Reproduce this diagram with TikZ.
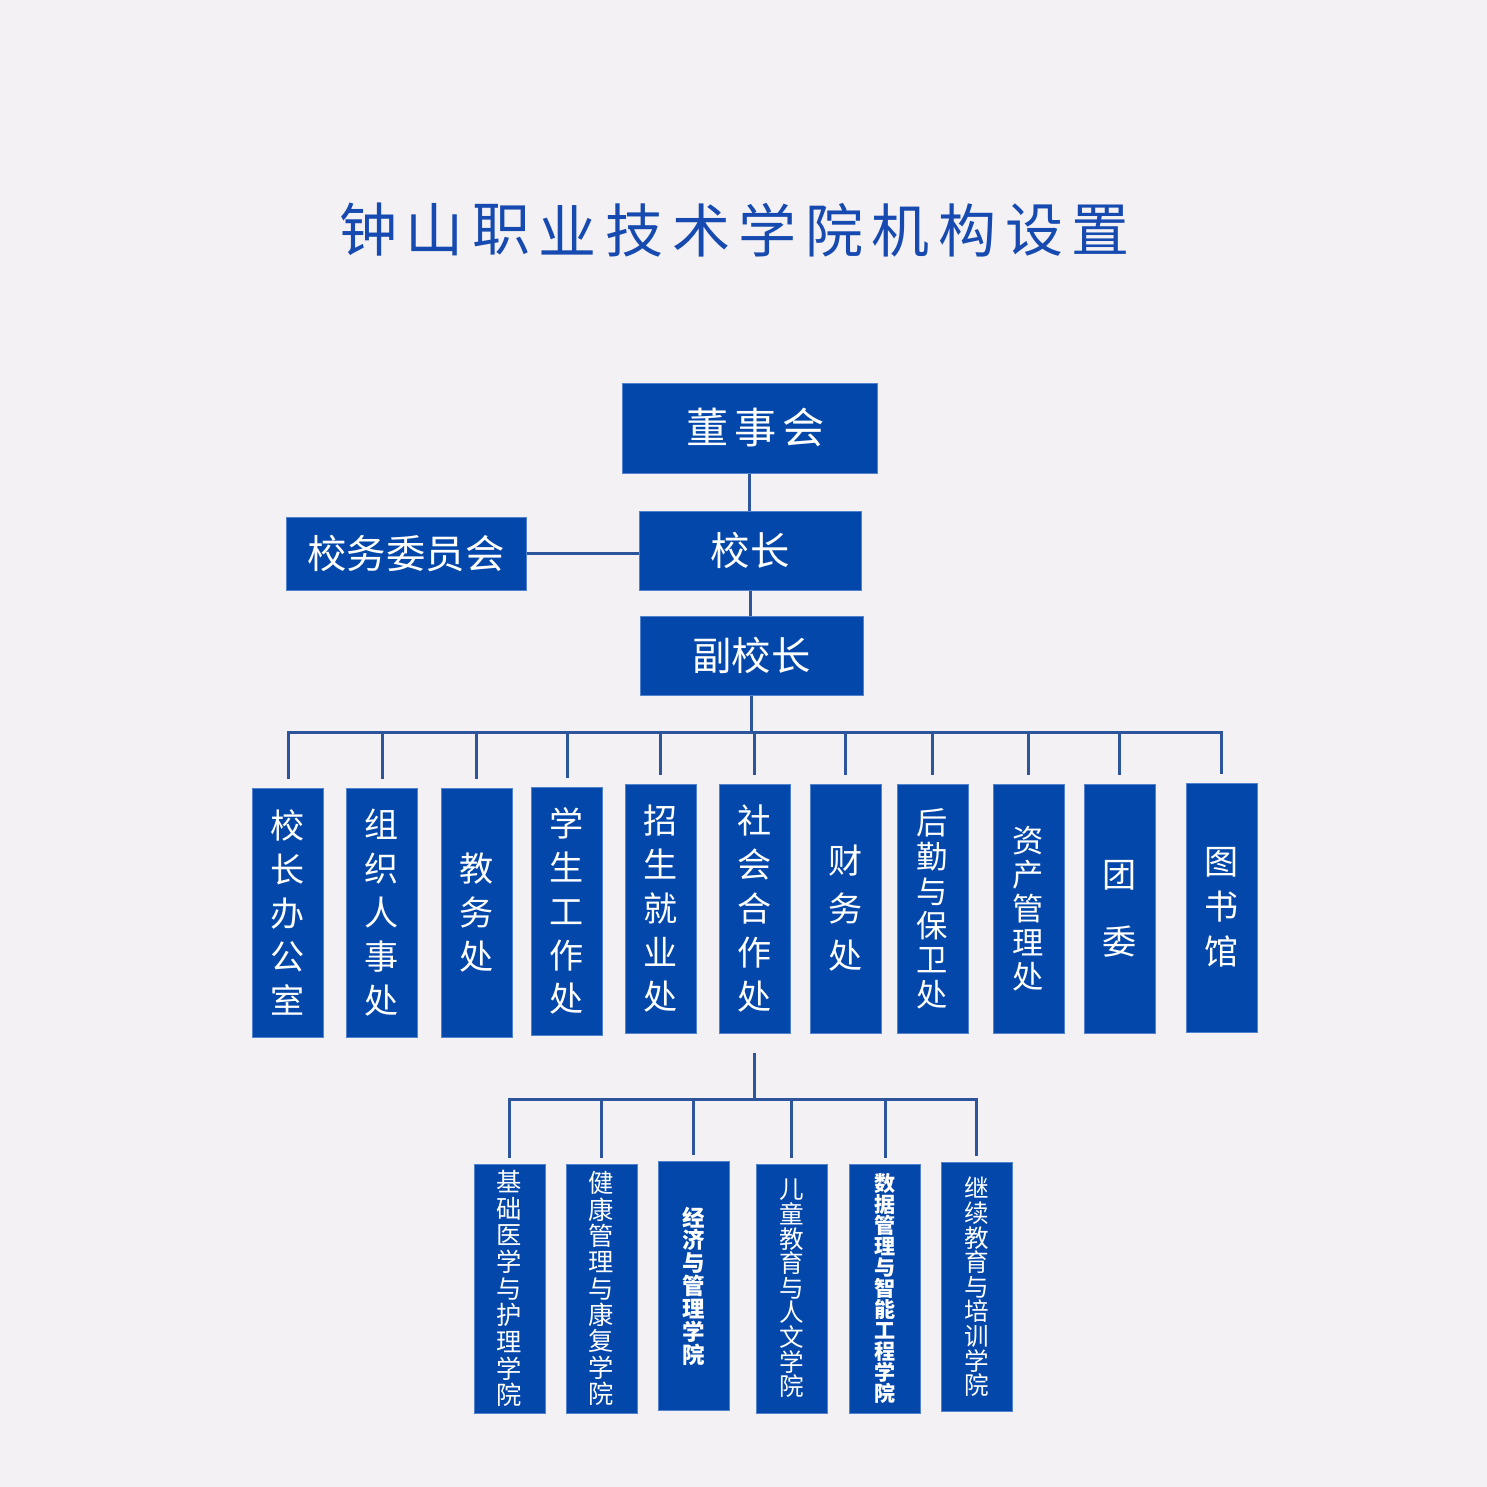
\documentclass[tikz,border=0pt]{standalone}
\usepackage{fontspec}
\setmainfont{Noto Sans CJK SC}
\definecolor{bg}{RGB}{243,241,243}
\definecolor{boxblue}{RGB}{3,71,171}
\definecolor{boxedge}{RGB}{80,130,205}
\definecolor{titleblue}{RGB}{22,74,176}
\definecolor{linkblue}{RGB}{45,85,155}

\tikzset{
  unit/.style={fill=boxblue, draw=boxedge, line width=0.1mm, text=white, inner sep=0pt},
  head/.style={unit, font=\fontsize{11.2pt}{13pt}\selectfont},
  dept/.style={unit, minimum width=7.1mm, minimum height=24.9mm, align=center,
    font=\fontsize{9.7pt}{12.5pt}\selectfont},
  college/.style={unit, minimum width=7.1mm, minimum height=24.9mm, align=center,
    font=\fontsize{7.2pt}{7.6pt}\selectfont},
  heading/.style={text=titleblue, inner sep=0pt, font=\fontsize{16.5pt}{18pt}\selectfont},
  link/.style={draw=linkblue, line width=0.3mm},
}

\begin{document}
\begin{tikzpicture}[x=0.1mm, y=-0.1mm]
  \fill[bg] (0,0) rectangle (1487,1487);
  \useasboundingbox (0,0) rectangle (1487,1487);

  % title
  \foreach \c [count=\i from 0] in {钟,山,职,业,技,术,学,院,机,构,设,置}
    \node[heading] (title\i) at ({368+\i*66.6},230) {\c};

  % top
  \node[head, minimum width=25.5mm, minimum height=9mm, font=\fontsize{12pt}{13pt}\selectfont]
    (board) at (749.5,428) {\kern1.2mm 董\kern0.55mm 事\kern0.55mm 会};
  \node[head, minimum width=22.2mm, minimum height=7.9mm] (principal) at (750,550.5) {校长};
  \node[head, minimum width=24mm, minimum height=7.3mm] (council) at (406,553.5) {校务委员会};
  \node[head, minimum width=22.3mm, minimum height=7.9mm] (vp) at (751.5,655.5) {副校长};

  \draw[link] (board.south) -- (board.south |- principal.north);
  \draw[link] (council.east) -- (council.east -| principal.west);
  \draw[link] (principal.south) -- (principal.south |- vp.north);

  % departments
  \node[dept] (office) at (288,912.5) {校\\长\\办\\公\\室};
  \node[dept] (personnel) at (382,912.5) {组\\织\\人\\事\\处};
  \node[dept] (academic) at (476.5,912.5) {教\\务\\处};
  \node[dept, minimum height=24.8mm] (student) at (567,911) {学\\生\\工\\作\\处};
  \node[dept] (admission) at (660.5,908.5) {招\\生\\就\\业\\处};
  \node[dept] (coop) at (754.5,908.5) {社\\会\\合\\作\\处};
  \node[dept, font=\fontsize{9.7pt}{13.5pt}\selectfont] (finance) at (845.5,908.5) {财\\务\\处};
  \node[dept, font=\fontsize{8.9pt}{9.8pt}\selectfont] (logistics) at (932.5,908.5) {后\\勤\\与\\保\\卫\\处};
  \node[dept, font=\fontsize{8.9pt}{9.7pt}\selectfont] (assets) at (1028.5,908.5) {资\\产\\管\\理\\处};
  \node[dept, font=\fontsize{9.7pt}{19pt}\selectfont] (youth) at (1119.5,908.5) {团\\委};
  \node[dept, font=\fontsize{9.7pt}{12.8pt}\selectfont] (library) at (1221.5,907.5) {图\\书\\馆};

  \coordinate (bus) at ([yshift=-3.7mm]vp.south);
  \draw[link] (vp.south) -- (bus);
  \foreach \d in {office,personnel,academic,student,admission,coop,finance,logistics,assets,youth,library}
    \draw[link, shorten >=0.9mm] (bus) -| (\d.north);

  % colleges
  \node[college] (nursing) at (509.5,1288.5) {基\\础\\医\\学\\与\\护\\理\\学\\院};
  \node[college, font=\fontsize{7.2pt}{7.5pt}\selectfont] (health) at (601.5,1288.5) {健\\康\\管\\理\\与\\康\\复\\学\\院};
  \node[college, font=\bfseries\fontsize{6.4pt}{6.5pt}\selectfont] (econ) at (693.5,1286) {经\\济\\与\\管\\理\\学\\院};
  \node[college, font=\fontsize{7pt}{7pt}\selectfont] (child) at (791.5,1288.5) {儿\\童\\教\\育\\与\\人\\文\\学\\院};
  \node[college, font=\bfseries\fontsize{6pt}{6pt}\selectfont] (data) at (885,1288.5) {数\\据\\管\\理\\与\\智\\能\\工\\程\\学\\院};
  \node[college, font=\fontsize{7pt}{7pt}\selectfont] (cont) at (976.5,1287) {继\\续\\教\\育\\与\\培\\训\\学\\院};

  \coordinate (lbus) at ([yshift=-6.6mm]coop.south);
  \draw[link, shorten <=1.9mm] (coop.south) -- (lbus);
  \foreach \d in {nursing,health,econ,child,data,cont}
    \draw[link, shorten >=0.6mm] (lbus) -| (\d.north);
\end{tikzpicture}
\end{document}
